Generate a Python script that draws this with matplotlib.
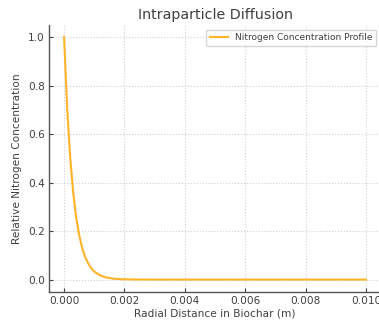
import matplotlib
matplotlib.use('Agg')
import matplotlib.pyplot as plt

# radial positions (m) and relative N concentration
radius = [0.0, 0.0001, 0.0002, 0.0003, 0.0004, 0.0005, 0.0006, 0.0007,
          0.0008, 0.0009, 0.0010, 0.0012, 0.0014, 0.0016, 0.0018, 0.0020,
          0.0025, 0.0030, 0.0050, 0.0075, 0.0100]
conc = [1.0, 0.712, 0.507, 0.361, 0.257, 0.183, 0.130, 0.093,
        0.066, 0.047, 0.033, 0.017, 0.0086, 0.0043, 0.0022, 0.0011,
        0.0002, 0.0, 0.0, 0.0, 0.0]

xticks = [0.000, 0.002, 0.004, 0.006, 0.008, 0.010]
yticks = [0.0, 0.2, 0.4, 0.6, 0.8, 1.0]

text_col = '#404040'
plt.rcParams['font.family'] = 'DejaVu Sans'

fig = plt.figure(figsize=(3.79, 3.21), dpi=100)
ax = fig.add_axes([49/379, 29.3/321, 332/379, 266.7/321])

ax.plot(radius, conc, color='#ffb428', lw=1.5, label='Nitrogen Concentration Profile')

ax.set_xticks(xticks)
ax.set_yticks(yticks)
ax.set_xticklabels(['%.3f' % t for t in xticks])
ax.set_yticklabels(['%.1f' % t for t in yticks])
ax.tick_params(direction='in', length=3, labelsize=7.6, colors=text_col, pad=3)

for s in ['top', 'right']:
    ax.spines[s].set_visible(False)
for s in ['left', 'bottom']:
    ax.spines[s].set_color('#555555')
    ax.spines[s].set_linewidth(1.0)

ax.grid(True, linestyle=':', color='#d0d0d0', linewidth=0.8)

ax.set_xlabel('Radial Distance in Biochar (m)', fontsize=7.6, color=text_col, labelpad=2)
ax.set_ylabel('Relative Nitrogen Concentration', fontsize=7.6, color=text_col, labelpad=4)
ax.set_title('Intraparticle Diffusion', fontsize=10.3, color=text_col, pad=4)

leg = ax.legend(loc='upper right', fontsize=6.5, frameon=True)
for t in leg.get_texts():
    t.set_color(text_col)

fig.savefig('out.png', dpi=100)
